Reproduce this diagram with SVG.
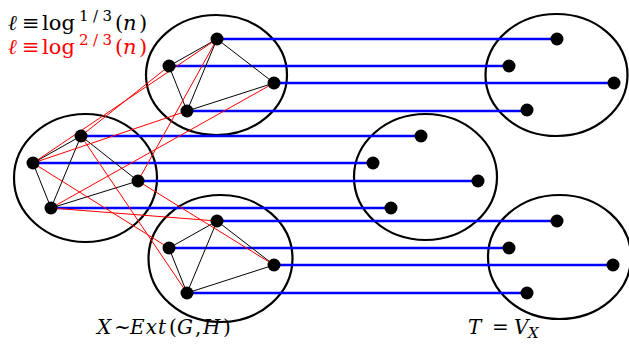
<svg xmlns="http://www.w3.org/2000/svg" width="629" height="355" viewBox="0 0 629 355">
<style>
.cl{fill:none;stroke:#000;stroke-width:2.2}
.bl{stroke:#0000ff;stroke-width:2.6}
.bk{stroke:#000;stroke-width:1}
.rd{stroke:#ff0000;stroke-width:1}
.nd{fill:#000}
.t{font-family:"DejaVu Serif","Liberation Serif",serif;font-size:21px}
.i{font-style:italic}
.s{font-size:15px}
</style>
<rect width="629" height="355" fill="#fff"/>
<g id="clusters">
<ellipse id="A" class="cl" cx="216.5" cy="75" rx="70.5" ry="60"/>
<ellipse id="B" class="cl" cx="85.5" cy="178" rx="71.5" ry="64"/>
<ellipse id="C" class="cl" cx="220.5" cy="258.5" rx="72" ry="63.5"/>
<ellipse id="D" class="cl" cx="556.5" cy="75" rx="71" ry="61"/>
<ellipse id="E" class="cl" cx="425.5" cy="177" rx="71.5" ry="63"/>
<ellipse id="F" class="cl" cx="559.5" cy="257" rx="71.5" ry="62"/>
</g>
<g id="connectors">
<g class="bl">
<line x1="217" y1="39" x2="557" y2="39"/>
<line x1="169" y1="66" x2="509" y2="66"/>
<line x1="274" y1="83" x2="614" y2="83"/>
<line x1="187" y1="111" x2="527" y2="111"/>
<line x1="81" y1="136" x2="421" y2="136"/>
<line x1="33" y1="163" x2="373" y2="163"/>
<line x1="138" y1="181" x2="478" y2="181"/>
<line x1="51" y1="208" x2="391" y2="208"/>
<line x1="217" y1="221" x2="557" y2="221"/>
<line x1="169" y1="248" x2="509" y2="248"/>
<line x1="274" y1="265" x2="613" y2="265"/>
<line x1="187" y1="293" x2="527" y2="293"/>
</g>
<g class="bk">
<line x1="217" y1="39" x2="169" y2="66"/>
<line x1="217" y1="39" x2="274" y2="83"/>
<line x1="217" y1="39" x2="187" y2="111"/>
<line x1="169" y1="66" x2="187" y2="111"/>
<line x1="187" y1="111" x2="274" y2="83"/>
<line x1="81" y1="136" x2="33" y2="163"/>
<line x1="81" y1="136" x2="138" y2="181"/>
<line x1="81" y1="136" x2="51" y2="208"/>
<line x1="33" y1="163" x2="51" y2="208"/>
<line x1="51" y1="208" x2="138" y2="181"/>
<line x1="217" y1="221" x2="169" y2="248"/>
<line x1="217" y1="221" x2="274" y2="265"/>
<line x1="217" y1="221" x2="187" y2="293"/>
<line x1="169" y1="248" x2="187" y2="293"/>
<line x1="187" y1="293" x2="274" y2="265"/>
</g>
<g class="rd">
<line x1="81" y1="136" x2="169" y2="66"/>
<line x1="33" y1="163" x2="217" y2="39"/>
<line x1="33" y1="163" x2="187" y2="111"/>
<line x1="51" y1="208" x2="274" y2="83"/>
<line x1="138" y1="181" x2="217" y2="39"/>
<line x1="51" y1="208" x2="217" y2="221"/>
<line x1="33" y1="163" x2="169" y2="248"/>
<line x1="81" y1="136" x2="187" y2="293"/>
<line x1="138" y1="181" x2="274" y2="265"/>
</g>
</g>
<g id="nodes" class="nd">
<g id="A-nodes"><circle cx="217" cy="39" r="6.5"/><circle cx="169" cy="66" r="6.5"/><circle cx="274" cy="83" r="6.5"/><circle cx="187" cy="111" r="6.5"/></g>
<g id="B-nodes"><circle cx="81" cy="136" r="6.5"/><circle cx="33" cy="163" r="6.5"/><circle cx="138" cy="181" r="6.5"/><circle cx="51" cy="208" r="6.5"/></g>
<g id="C-nodes"><circle cx="217" cy="221" r="6.5"/><circle cx="169" cy="248" r="6.5"/><circle cx="274" cy="265" r="6.5"/><circle cx="187" cy="293" r="6.5"/></g>
<g id="D-nodes"><circle cx="557" cy="39" r="6.5"/><circle cx="509" cy="66" r="6.5"/><circle cx="614" cy="83" r="6.5"/><circle cx="527" cy="110" r="6.5"/></g>
<g id="E-nodes"><circle cx="421" cy="136" r="6.5"/><circle cx="373" cy="163" r="6.5"/><circle cx="478" cy="181" r="6.5"/><circle cx="391" cy="208" r="6.5"/></g>
<g id="F-nodes"><circle cx="557" cy="221" r="6.5"/><circle cx="509" cy="248" r="6.5"/><circle cx="613" cy="265" r="6.5"/><circle cx="527" cy="293" r="6.5"/></g>
</g>
<g id="labels" class="t">
<text y="30"><tspan x="8" class="i">ℓ</tspan><tspan x="22">≡</tspan><tspan x="42" textLength="33">log</tspan><tspan x="79" y="21" class="s" textLength="33">1/3</tspan><tspan x="115" y="30">(</tspan><tspan x="123" class="i">n</tspan><tspan x="139">)</tspan></text>
<text y="54" fill="#ff0000"><tspan x="8" class="i">ℓ</tspan><tspan x="22">≡</tspan><tspan x="42" textLength="33">log</tspan><tspan x="79" y="45" class="s" textLength="33">2/3</tspan><tspan x="115" y="54">(</tspan><tspan x="123" class="i">n</tspan><tspan x="139">)</tspan></text>
<text y="334" font-size="20"><tspan x="97" class="i">X</tspan><tspan x="114">~</tspan><tspan x="130" class="i" textLength="36">Ext</tspan><tspan x="169">(</tspan><tspan x="177" class="i">G</tspan><tspan x="195">,</tspan><tspan x="203" class="i">H</tspan><tspan x="223">)</tspan></text>
<text y="334" font-size="20"><tspan x="468" class="i">T</tspan><tspan x="492">=</tspan><tspan x="514" class="i">V</tspan><tspan x="528" y="338" class="i s">X</tspan></text>
</g>
</svg>
